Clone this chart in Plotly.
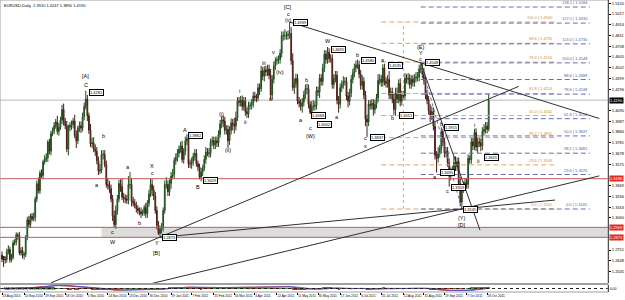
import numpy as np
import pandas as pd
import plotly.graph_objects as go

# ---------------- data (prices in pips above 1.0000) ----------------
start_date, end_date = "2010-08-23", "2011-10-27"
first_open = 2703

close_aug10 = [2665, 2660, 2660, 2735, 2757, 2659, 2680]
up_aug10 = [35, 25, 30, 30, 40, 25, 35]
dn_aug10 = [30, 72, 40, 30, 25, 30, 25]

close_sep10 = [2820, 2826, 2897, 2886, 2722, 2747, 2700, 2709, 2875, 3040, 2996, 3076, 3050, 3065, 3240, 3387, 3320, 3490, 3465, 3597, 3625, 3638]
up_sep10 = [25, 30, 25, 20, 40, 30, 35, 25, 20, 30, 40, 25, 30, 45, 25, 30, 60, 25, 35, 20, 40, 45]
dn_sep10 = [20, 25, 30, 35, 20, 25, 30, 40, 25, 30, 35, 30, 25, 20, 40, 30, 25, 30, 20, 35, 25, 30]

close_oct10 = [3788, 3700, 3870, 3898, 3946, 3980, 3890, 3930, 4000, 4100, 3990, 3945, 3720, 3930, 3950, 3955, 3990, 3850, 3800, 3920, 3945]
up_oct10 = [20, 30, 25, 30, 35, 30, 60, 40, 30, 45, 57, 30, 45, 25, 30, 40, 30, 60, 50, 25, 40]
dn_oct10 = [40, 30, 40, 25, 35, 30, 30, 40, 25, 40, 45, 35, 30, 60, 40, 45, 35, 25, 70, 30, 35]

close_nov10 = [3920, 4030, 4130, 4200, 4040, 3900, 3770, 3780, 3720, 3700, 3610, 3510, 3520, 3670, 3670, 3570, 3380, 3370, 3340, 3240, 3080, 2995]
up_nov10 = [40, 40, 35, 81, 40, 30, 60, 50, 55, 45, 40, 40, 60, 40, 40, 40, 40, 60, 45, 40, 40, 50]
dn_nov10 = [45, 30, 35, 30, 50, 35, 30, 40, 30, 45, 35, 40, 30, 30, 50, 25, 30, 40, 40, 30, 50, 26]

close_dec10 = [3130, 3240, 3390, 3360, 3260, 3250, 3240, 3230, 3380, 3380, 3220, 3200, 3180, 3150, 3130, 3120, 3100, 3110, 3160, 3100, 3200, 3290, 3380]
up_dec10 = [50, 40, 35, 40, 78, 40, 35, 40, 80, 120, 60, 40, 40, 35, 30, 30, 40, 30, 25, 45, 30, 40, 60]
dn_dec10 = [40, 40, 30, 50, 30, 45, 40, 35, 40, 40, 50, 30, 30, 40, 35, 35, 40, 20, 30, 40, 40, 35, 30]

close_jan11 = [3330, 3270, 3130, 2990, 2910, 2950, 2970, 3130, 3380, 3380, 3310, 3390, 3460, 3480, 3610, 3640, 3680, 3720, 3750, 3620, 3700]
up_jan11 = [50, 40, 40, 40, 40, 35, 40, 30, 40, 70, 40, 40, 40, 50, 30, 40, 40, 35, 40, 50, 30]
dn_jan11 = [60, 40, 30, 40, 15, 37, 40, 40, 30, 40, 40, 40, 50, 30, 40, 40, 40, 40, 35, 30, 40]

close_feb11 = [3800, 3820, 3580, 3580, 3600, 3650, 3680, 3580, 3550, 3450, 3500, 3540, 3620, 3690, 3680, 3680, 3790, 3800, 3760, 3800]
up_feb11 = [40, 42, 30, 40, 40, 35, 40, 40, 30, 30, 40, 30, 40, 50, 40, 50, 30, 40, 40, 40]
dn_feb11 = [40, 40, 40, 40, 50, 40, 40, 30, 40, 21, 40, 40, 30, 40, 30, 40, 40, 40, 40, 40]

close_mar11 = [3780, 3860, 3960, 4000, 3990, 3900, 3910, 3800, 3900, 3970, 3960, 3940, 4020, 4180, 4170, 4190, 4130, 4180, 4080, 4060, 4140, 4140, 4160]
up_mar11 = [40, 40, 40, 35, 40, 40, 40, 40, 40, 45, 40, 60, 60, 40, 40, 40, 45, 40, 40, 40, 35, 35, 40]
dn_mar11 = [40, 40, 30, 40, 60, 40, 40, 70, 40, 40, 60, 70, 40, 30, 40, 40, 40, 40, 40, 40, 40, 40, 40]

close_apr11 = [4230, 4220, 4210, 4310, 4300, 4470, 4420, 4480, 4460, 4490, 4430, 4240, 4390, 4520, 4570, 4580, 4580, 4640, 4810, 4810, 4810]
up_apr11 = [40, 40, 30, 40, 40, 50, 40, 35, 40, 40, 40, 60, 40, 40, 30, 30, 40, 40, 40, 40, 60]
dn_apr11 = [40, 40, 40, 30, 60, 30, 40, 50, 40, 40, 40, 50, 40, 40, 40, 40, 40, 40, 40, 50, 40]

close_may11 = [4810, 4820, 4830, 4570, 4310, 4350, 4400, 4180, 4160, 4130, 4170, 4240, 4300, 4300, 4150, 4070, 4130, 4130, 4140, 4280, 4270, 4400]
up_may11 = [40, 40, 110, 60, 70, 50, 45, 40, 40, 40, 40, 40, 40, 50, 40, 30, 50, 60, 40, 40, 40, 40]
dn_may11 = [40, 40, 40, 40, 30, 60, 40, 30, 40, 40, 60, 40, 40, 50, 40, 15, 40, 40, 40, 40, 40, 60]

close_jun11 = [4370, 4500, 4630, 4580, 4650, 4590, 4590, 4340, 4400, 4430, 4190, 4150, 4310, 4340, 4370, 4370, 4230, 4180, 4260, 4390, 4450, 4500]
up_jun11 = [40, 40, 40, 40, 50, 40, 40, 40, 40, 40, 40, 40, 40, 40, 50, 40, 40, 40, 40, 40, 40, 40]
dn_jun11 = [40, 40, 40, 40, 40, 40, 40, 40, 40, 40, 40, 80, 40, 40, 40, 40, 40, 60, 40, 40, 40, 40]

close_jul11 = [4530, 4530, 4440, 4330, 4370, 4240, 4010, 3980, 4150, 4140, 4160, 4100, 4150, 4210, 4380, 4390, 4360, 4500, 4370, 4350, 4390]
up_jul11 = [40, 50, 40, 40, 60, 40, 40, 40, 40, 40, 40, 40, 40, 40, 60, 50, 40, 35, 40, 40, 40]
dn_jul11 = [40, 40, 40, 40, 40, 40, 70, 143, 40, 40, 40, 60, 40, 40, 40, 40, 40, 40, 40, 40, 40]

close_aug11 = [4240, 4270, 4200, 4100, 4250, 4200, 4350, 4180, 4240, 4230, 4400, 4390, 4400, 4340, 4390, 4360, 4400, 4410, 4410, 4490, 4500, 4440, 4380]
up_aug11 = [80, 40, 40, 60, 60, 60, 40, 50, 40, 40, 50, 40, 50, 40, 40, 40, 40, 50, 50, 40, 48, 40, 60]
dn_aug11 = [40, 40, 40, 50, 60, 40, 40, 50, 40, 40, 40, 40, 50, 40, 40, 40, 40, 40, 40, 40, 40, 40, 40]

close_sep11 = [4240, 4190, 4090, 4040, 4080, 3940, 3660, 3630, 3680, 3720, 3890, 3790, 3680, 3700, 3590, 3460, 3500, 3510, 3590, 3550, 3600, 3390]
up_sep11 = [40, 50, 40, 60, 50, 40, 40, 40, 60, 40, 40, 25, 40, 40, 40, 40, 40, 50, 60, 60, 40, 40]
dn_sep11 = [40, 40, 40, 60, 40, 40, 40, 135, 40, 40, 40, 40, 40, 40, 40, 100, 40, 40, 40, 40, 40, 40]

close_oct11 = [3210, 3340, 3370, 3400, 3380, 3630, 3620, 3790, 3750, 3880, 3740, 3790, 3780, 3750, 3890, 3910, 3940, 3910, 4190]
up_oct11 = [60, 40, 40, 40, 40, 40, 30, 40, 40, 35, 40, 40, 40, 40, 40, 50, 40, 40, 57]
dn_oct11 = [40, 65, 40, 50, 40, 40, 40, 40, 40, 40, 40, 60, 40, 50, 40, 40, 40, 40, 20]

tick_dates = ["2010-08-23", "2010-09-10", "2010-09-29", "2010-10-18", "2010-11-05", "2010-11-24",
              "2010-12-13", "2010-12-30", "2011-01-19", "2011-02-07", "2011-02-25", "2011-03-16",
              "2011-04-04", "2011-04-22", "2011-05-11", "2011-05-30", "2011-06-17", "2011-07-06",
              "2011-07-25", "2011-08-12", "2011-08-31", "2011-09-19", "2011-10-07", "2011-10-26"]
tick_labels = ["23 Aug 2010", "10 Sep 2010", "29 Sep 2010", "18 Oct 2010", "5 Nov 2010", "24 Nov 2010",
               "13 Dec 2010", "30 Dec 2010", "19 Jan 2011", "7 Feb 2011", "25 Feb 2011", "16 Mar 2011",
               "4 Apr 2011", "22 Apr 2011", "11 May 2011", "30 May 2011", "17 Jun 2011", "6 Jul 2011",
               "25 Jul 2011", "12 Aug 2011", "31 Aug 2011", "19 Sep 2011", "7 Oct 2011", "26 Oct 2011"]

price_tick_top, price_tick_step, price_tick_count = 1.5120, 0.0103, 26

red_levels = [1.3436, 1.2969, 1.2873]
zone_start_bar = 63
zone_lo, zone_hi = 1.2873, 1.2969

fib_purple_levels = [0.0, 23.6, 38.2, 50.0, 61.8, 78.6, 88.6, 100.0, 113.0, 127.2, 138.2]
fib_purple_hi, fib_purple_lo, fib_purple_x0, fib_purple_x1 = 1.4548, 1.3145, 265, 372
fib_tan_levels = [0.0, 23.6, 38.2, 50.0, 61.8, 78.6, 88.6, 100.0]
fib_tan_hi, fib_tan_lo, fib_tan_x0, fib_tan_x1 = 1.4940, 1.3145, 240, 350
vline_bar = 254

trend_x0 = [182, 31, 100, 94, 265]
trend_p0 = [1.4940, 1.2436, 1.2873, 1.2427, 1.4548]
trend_x1 = [378, 327, 350, 378, 302.5]
trend_p1 = [1.4014, 1.4322, 1.3231, 1.3463, 1.2943]

wave_bar = [1, 53, 53, 64, 60, 70, 70, 80, 87, 95, 95, 98, 98, 116, 124, 139, 143, 150, 154, 166, 170, 172, 176,
            181, 181, 181, 189, 193, 195, 195, 206, 212, 225, 230, 230, 241, 247, 265, 265, 265, 274, 278, 282,
            291, 291, 299, 301]
wave_price = [1.2675, 1.4422, 1.4335, 1.3846, 1.3375, 1.2924, 1.2828, 1.3548, 1.3011, 1.3558, 1.3491, 1.2819, 1.2723,
              1.3903, 1.3356, 1.4057, 1.3711, 1.4278, 1.3980, 1.4547, 1.4201, 1.4652, 1.4460,
              1.5084, 1.5017, 1.4959, 1.3999, 1.4383, 1.3925, 1.3850, 1.4758, 1.4028, 1.4623, 1.3827, 1.3750,
              1.4575, 1.4019, 1.4700, 1.4643, 1.4585, 1.3452, 1.3960, 1.3320, 1.3059, 1.2991, 1.3951, 1.3606]
wave_text = ["B", "[A]", "C", "b", "a", "c", "W", "a", "b", "X", "c", "Y", "[B]", "A", "B", "(i)", "(ii)", "i", "ii",
             "iii", "iv", "v", "(iv)", "[C]", "c", "(v)", "a", "b", "c", "(W)", "W", "a", "b", "c", "x",
             "a", "b", "(E)", "Y", "c", "a", "b", "c", "(Y)", "[D]", "i", "ii"]

box_bar = [55, 101, 118, 127, 184, 195.5, 199.5, 208, 227, 233, 244, 251, 268, 277, 280, 284, 292, 305]
box_price = [1.4268, 1.2867, 1.3846, 1.3423, 1.4931, 1.4047, 1.3961, 1.4681, 1.4566, 1.3836, 1.4527, 1.4047,
             1.4547, 1.3491, 1.3932, 1.3356, 1.3145, 1.3644]
box_text = ["1.4281", "1.2873", "1.3862", "1.3429", "1.4939", "1.4068", "1.4002", "1.4695", "1.4580", "1.3837",
            "1.4535", "1.4051", "1.4548", "1.3495", "1.3915", "1.3359", "1.3145", "1.3655"]

# ---------------- build ----------------
closes = (close_aug10 + close_sep10 + close_oct10 + close_nov10 + close_dec10 + close_jan11 + close_feb11 +
          close_mar11 + close_apr11 + close_may11 + close_jun11 + close_jul11 + close_aug11 + close_sep11 + close_oct11)
ups = (up_aug10 + up_sep10 + up_oct10 + up_nov10 + up_dec10 + up_jan11 + up_feb11 + up_mar11 + up_apr11 +
       up_may11 + up_jun11 + up_jul11 + up_aug11 + up_sep11 + up_oct11)
dns = (dn_aug10 + dn_sep10 + dn_oct10 + dn_nov10 + dn_dec10 + dn_jan11 + dn_feb11 + dn_mar11 + dn_apr11 +
       dn_may11 + dn_jun11 + dn_jul11 + dn_aug11 + dn_sep11 + dn_oct11)
dates = pd.bdate_range(start_date, end_date)
assert len(dates) == len(closes) == len(ups) == len(dns), (len(dates), len(closes), len(ups), len(dns))

c = np.array(closes) / 10000 + 1
o = np.array([first_open] + closes[:-1]) / 10000 + 1
h = np.maximum(o, c) + np.array(ups) / 10000
l = np.minimum(o, c) - np.array(dns) / 10000
x = np.arange(len(c))
bid = c[-1]

tickvals = [dates.get_loc(pd.Timestamp(d)) for d in tick_dates]

price_marks = red_levels + [bid]
price_ticks = [round(price_tick_top - k * price_tick_step, 4) for k in range(price_tick_count)]
price_ticks = [t for t in price_ticks if min(abs(t - m) for m in price_marks) > 0.0062]

cs = pd.Series(c)
macd = cs.ewm(span=12, adjust=False).mean() - cs.ewm(span=26, adjust=False).mean()
sig = macd.rolling(9, min_periods=1).mean()

X_RANGE = [-1.27, 383.5]
Y_RANGE = [1.24346, 1.51514]
MAIN_DOM = [0.0308, 1.0]
SUB_DOM = [0.0, 0.024]
FONT = "Liberation Sans, Arial, sans-serif"

fig = go.Figure()
fig.add_trace(go.Candlestick(
    x=x, open=o, high=h, low=l, close=c,
    increasing=dict(line=dict(color="#1f4f1f", width=1), fillcolor="#4f9a4f"),
    decreasing=dict(line=dict(color="#4a1f16", width=1), fillcolor="#9a4a3a"),
    whiskerwidth=0, showlegend=False, hoverinfo="skip", xaxis="x", yaxis="y"))

hist = macd - sig
fig.add_trace(go.Bar(x=x, y=hist, marker_color=np.where(hist >= 0, "#3c9a3c", "#c03a2a"),
                     marker_line_width=0, xaxis="x2", yaxis="y2", showlegend=False, hoverinfo="skip"))
fig.add_trace(go.Scatter(x=x, y=macd, mode="lines", line=dict(color="#c03030", width=1),
                         xaxis="x2", yaxis="y2", showlegend=False, hoverinfo="skip"))
fig.add_trace(go.Scatter(x=x, y=sig, mode="lines", line=dict(color="#5050c0", width=1),
                         xaxis="x2", yaxis="y2", showlegend=False, hoverinfo="skip"))

shapes = []
shapes.append(dict(type="rect", xref="x", yref="y", x0=zone_start_bar, x1=X_RANGE[1], y0=zone_lo, y1=zone_hi,
                   fillcolor="#dcdcdc", line=dict(width=0), layer="below"))
shapes.append(dict(type="line", xref="paper", yref="y", x0=0, x1=1, y0=bid, y1=bid,
                   line=dict(color="#b8b8b8", width=1), layer="below"))
for p in red_levels:
    shapes.append(dict(type="line", xref="paper", yref="y", x0=0, x1=1, y0=p, y1=p,
                       line=dict(color="#c05a5a", width=1)))
annots = []
for lv in fib_tan_levels:
    p = fib_tan_lo + lv / 100 * (fib_tan_hi - fib_tan_lo)
    shapes.append(dict(type="line", xref="x", yref="y", x0=fib_tan_x0, x1=fib_tan_x1, y0=p, y1=p,
                       line=dict(color="#d8aa6a", width=1, dash="5px,3px")))
    annots.append(dict(x=fib_tan_x1, y=p, xref="x", yref="y", text=f"{lv:.1f} | {p:.4f}", showarrow=False,
                       xanchor="right", yanchor="bottom", font=dict(size=4, color="#c89050", family=FONT)))
shapes.append(dict(type="line", xref="x", yref="y", x0=vline_bar, x1=vline_bar, y0=fib_tan_lo, y1=fib_tan_hi,
                   line=dict(color="#d8aa6a", width=1, dash="dot")))
for lv in fib_purple_levels:
    p = fib_purple_lo + lv / 100 * (fib_purple_hi - fib_purple_lo)
    shapes.append(dict(type="line", xref="x", yref="y", x0=fib_purple_x0, x1=fib_purple_x1, y0=p, y1=p,
                       line=dict(color="#6c6cb4", width=1, dash="5px,3px")))
    annots.append(dict(x=fib_purple_x1, y=p, xref="x", yref="y", text=f"{lv:.1f} | {p:.4f}", showarrow=False,
                       xanchor="right", yanchor="bottom", font=dict(size=4, color="#5a5aa8", family=FONT)))
shapes.append(dict(type="line", xref="x", yref="y", x0=fib_purple_x0, x1=291, y0=fib_purple_hi, y1=fib_purple_lo,
                   line=dict(color="#6c6cb4", width=1, dash="dot")))
for a, b, cc, d in zip(trend_x0, trend_p0, trend_x1, trend_p1):
    shapes.append(dict(type="line", xref="x", yref="y", x0=a, y0=b, x1=cc, y1=d,
                       line=dict(color="#303030", width=1)))
shapes.append(dict(type="rect", xref="paper", yref="paper", x0=0, x1=1, y0=SUB_DOM[1], y1=MAIN_DOM[0],
                   fillcolor="#a0a0a0", line=dict(width=0)))
shapes.append(dict(type="line", xref="paper", yref="y2", x0=0, x1=1, y0=0, y1=0,
                   line=dict(color="#202020", width=1, dash="dot")))
shapes.append(dict(type="rect", xref="paper", yref="paper", x0=0, x1=1, y0=0, y1=1,
                   line=dict(color="#a0a0a0", width=1)))

for bx, bp, bt in zip(wave_bar, wave_price, wave_text):
    annots.append(dict(x=bx, y=bp, xref="x", yref="y", text=bt, showarrow=False,
                       font=dict(size=5.5, color="#000000", family=FONT)))
for bx, bp, bt in zip(box_bar, box_price, box_text):
    annots.append(dict(x=bx, y=bp, xref="x", yref="y", text=bt, showarrow=False, xanchor="left",
                       font=dict(size=4, color="#000000", family=FONT), bgcolor="#ffffff",
                       bordercolor="#000000", borderwidth=1, borderpad=0))
for p in red_levels:
    annots.append(dict(x=1, y=p, xref="paper", yref="y", text=f"{p:.4f}", showarrow=False, xanchor="left",
                       xshift=1, font=dict(size=4, color="#ffffff", family=FONT), bgcolor="#e02a1e", borderpad=0))
annots.append(dict(x=1, y=bid, xref="paper", yref="y", text=f"{bid:.4f}", showarrow=False, xanchor="left",
                   xshift=1, font=dict(size=4, color="#ffffff", family=FONT), bgcolor="#000000", borderpad=0))
annots.append(dict(x=0.004, y=1, xref="paper", yref="paper", yanchor="top", xanchor="left", showarrow=False,
                   yshift=-1,
                   text=f"EURUSD,Daily  {o[-1]:.4f} {h[-1]:.4f} {l[-1]:.4f} {c[-1]:.4f}",
                   font=dict(size=4, color="#000000", family=FONT)))
annots.append(dict(x=0.004, y=SUB_DOM[1], xref="paper", yref="paper", yanchor="top", xanchor="left",
                   showarrow=False, text=f"MACD(12,26,9) {macd.iloc[-1]:.5f} {sig.iloc[-1]:.5f}",
                   font=dict(size=3.5, color="#000000", family=FONT)))

mlim = float(np.nanmax(np.abs(macd))) * 1.1

fig.update_layout(
    width=625, height=300, margin=dict(l=0, r=17, t=0, b=8),
    paper_bgcolor="#ffffff", plot_bgcolor="#ffffff", showlegend=False, bargap=0.3,
    font=dict(family=FONT, size=4, color="#000000"),
    xaxis=dict(domain=[0, 1], range=X_RANGE, anchor="y", showticklabels=False, showgrid=False,
               zeroline=False, rangeslider=dict(visible=False), fixedrange=True),
    yaxis=dict(domain=MAIN_DOM, range=Y_RANGE, side="right", tickmode="array", tickvals=price_ticks,
               ticktext=[f"{t:.4f}" for t in price_ticks],
               showgrid=False, zeroline=False, showline=True, linecolor="#000000", linewidth=1,
               ticks="outside", ticklen=2, tickcolor="#000000", tickfont=dict(size=4)),
    xaxis2=dict(domain=[0, 1], range=X_RANGE, anchor="y2", tickvals=tickvals, ticktext=tick_labels,
                tickangle=0, ticklabelposition="outside right", ticks="outside", ticklen=2,
                tickcolor="#000000", showgrid=False, zeroline=False, tickfont=dict(size=3.2), showline=False),
    yaxis2=dict(domain=SUB_DOM, range=[-mlim, mlim], side="right", showgrid=False, zeroline=False,
                tickvals=[0.0], ticktext=["0.00"], tickfont=dict(size=3.5), showline=True,
                linecolor="#000000", linewidth=1),
    shapes=shapes, annotations=annots,
)

fig.write_html("out.html")
